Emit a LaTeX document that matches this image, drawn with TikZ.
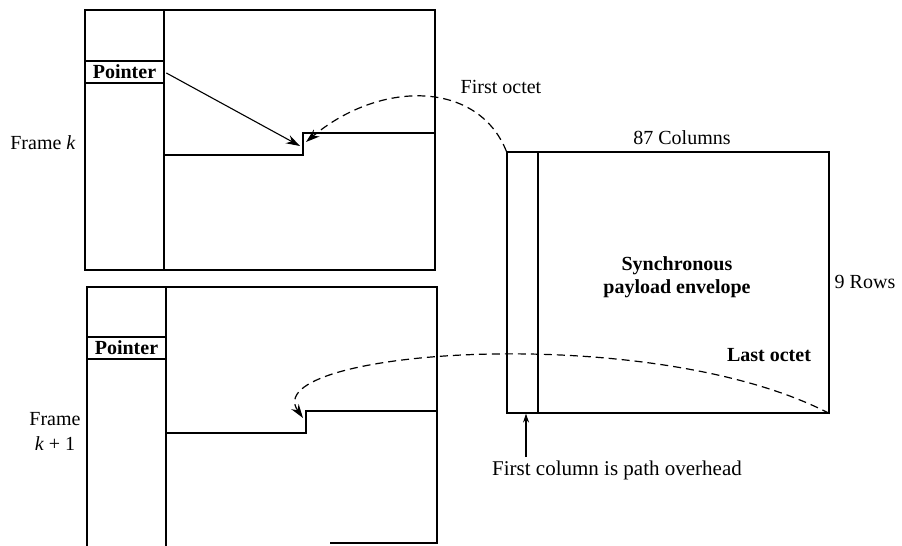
\documentclass[tikz,border=0pt]{standalone}
\usepackage{fontspec}
\setmainfont{Liberation Serif}
\usetikzlibrary{arrows.meta}
\begin{document}
\begin{tikzpicture}[x=1pt,y=-1pt,
  lbl/.style={font=\fontsize{20}{23}\selectfont, inner sep=0pt},
  boldlbl/.style={font=\fontsize{20}{23}\selectfont\bfseries, inner sep=0pt},
  thinline/.style={line width=1.1pt},
  stepline/.style={line width=2.2pt},
  ptrbox/.style={draw, line width=1.1pt, minimum width=79pt, minimum height=22pt, inner sep=0pt, font=\fontsize{20}{23}\selectfont\bfseries},
  tip/.style={-{Stealth[length=14pt,width=9pt]}},
  dashline/.style={dash pattern=on 8pt off 5pt, line width=1.2pt}
]
\useasboundingbox (0,0) rectangle (902,546);

% ---------- Frame k ----------
\draw[thinline] (85,10) rectangle (435,270);
\draw[thinline] (164,10) -- (164,270);
\node[ptrbox] (ptrA) at (124.5,72) {Pointer};
\draw[stepline] (164,155) -- (303,155) -- (303,133) -- (435,133);
\coordinate (tipA) at (300,146);
\coordinate (tipB) at (306,142);
\node[lbl] (frk) at (43,143) {Frame \textit{k}};

% ---------- Frame k+1 ----------
\draw[thinline] (87,546) -- (87,287) -- (437,287) -- (437,543) -- (330,543);
\draw[thinline] (166,287) -- (166,546);
\node[ptrbox] (ptrB) at (126.5,348) {Pointer};
\draw[stepline] (166,433) -- (306,433) -- (306,411) -- (437,411);
\coordinate (tipC) at (303,418);
\node[lbl, align=center] (frk1) at (55,431) {Frame\\[2pt]\textit{k} + 1};

% ---------- SPE ----------
\node[draw, thinline, minimum width=322pt, minimum height=261pt, inner sep=0pt] (spe) at (668,282.5) {};
\draw[thinline] (538,152) -- (538,413);
\node[lbl] (cols) at (682,138) {87 Columns};
\node[lbl] (rows) at (865,282) {9 Rows};
\node[boldlbl, align=center] (spetxt) at (677,277) {Synchronous\\payload envelope};
\node[boldlbl] (last) at (769,355) {Last octet};
\node[lbl] (first) at (501,87) {First octet};
\node[lbl, font=\fontsize{21}{24}\selectfont] (fcol) at (617,470) {First column is path overhead};
\coordinate (fcb) at (526,457);

% ---------- connectors ----------
\draw[thinline, tip, shorten <=2pt] (ptrA.east) -- (tipA);
\draw[dashline, tip] (spe.north west) .. controls (478,80) and (380,80) .. (tipB);
\draw[dashline, tip] (spe.south east) .. controls (650,320) and (255,350) .. (tipC);
\draw[thinline, -{Stealth[length=9pt,width=6pt]}] (fcb) -- (fcb |- spe.south);
\end{tikzpicture}
\end{document}
